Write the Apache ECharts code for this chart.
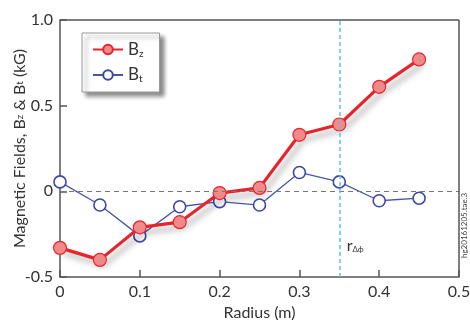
<!DOCTYPE html>
<html><head><meta charset="utf-8">
<script src="https://cdn.jsdelivr.net/npm/echarts@6/dist/echarts.min.js"></script>
<style>html,body{margin:0;padding:0;background:#fff}#c{width:470px;height:320px}</style>
</head><body><div id="c"></div>
<script>
var radius = [0, 0.05, 0.1, 0.15, 0.2, 0.25, 0.3, 0.35, 0.4, 0.45];
var bz = [-0.33, -0.40, -0.21, -0.18, -0.01, 0.02, 0.33, 0.39, 0.61, 0.77];
var bt = [0.055, -0.08, -0.26, -0.09, -0.06, -0.08, 0.11, 0.055, -0.055, -0.04];
var rDeltaPhi = 0.353;
var FONT = 'Lato';
function pairs(ys){ return radius.map(function(x,i){return [x, ys[i]];}); }
var chart = echarts.init(document.getElementById('c'));
chart.setOption({
  animation: false,
  textStyle: {fontFamily: FONT},
  grid: {left: 60, right: 11, top: 20, bottom: 43, containLabel: false, outerBoundsMode: 'none'},
  legend: {
    left: 82, top: 33, orient: 'vertical',
    itemWidth: 30, itemHeight: 12, itemGap: 8,
    padding: [8, 16, 8, 10],
    backgroundColor: '#fff', borderColor: '#999', borderWidth: 1,
    shadowColor: 'rgba(0,0,0,0.45)', shadowBlur: 4, shadowOffsetX: 4, shadowOffsetY: 4,
    data: ['Bz', 'Bt'],
    formatter: function(n){ return n === 'Bz' ? 'B{s|z}' : 'B{s|t}'; },
    textStyle: {fontFamily: FONT, fontSize: 17, color: '#333',
      rich: {s: {fontSize: 10, verticalAlign: 'bottom', padding: [8,0,0,0], fontFamily: FONT, color: '#333'}}}
  },
  xAxis: {
    type: 'value', min: 0, max: 0.5, interval: 0.1,
    name: 'Radius (m)', nameLocation: 'middle', nameGap: 28,
    nameTextStyle: {fontSize: 16, color: '#333', fontFamily: FONT},
    axisLine: {onZero: false, lineStyle: {color: '#555', width: 1.5}},
    axisTick: {inside: true, length: 7, lineStyle: {color: '#555', width: 1.5}},
    axisLabel: {fontSize: 16, color: '#333', margin: 7, fontFamily: FONT,
      formatter: function(v){ return v === 0 ? '0' : v.toFixed(1); }},
    splitLine: {show: false}
  },
  yAxis: {
    type: 'value', min: -0.5, max: 1.0, interval: 0.5,
    name: 'Magnetic Fields, B{s|z} & B{s|t} (kG)', nameLocation: 'middle', nameGap: 32,
    nameMoveOverlap: false,
    nameTextStyle: {fontSize: 16, color: '#333', fontFamily: FONT,
      rich: {s: {fontSize: 10, fontFamily: FONT, color: '#333'}}},
    axisLine: {onZero: false, lineStyle: {color: '#555', width: 1.5}},
    axisTick: {inside: true, length: 7, lineStyle: {color: '#555', width: 1.5}},
    axisLabel: {fontSize: 16, color: '#333', margin: 7, fontFamily: FONT,
      formatter: function(v){ return v === 0 ? '0' : v.toFixed(1); }},
    splitLine: {show: false}
  },
  series: [
    {
      name: 'frame', type: 'line', data: [], silent: true,
      markLine: {
        silent: true, symbol: 'none', label: {show: false},
        data: [
          {yAxis: 0, lineStyle: {type: [5,4], color: '#777', width: 1}},
          {yAxis: 1.0, lineStyle: {type: 'solid', color: '#555', width: 1.5}},
          {xAxis: 0.5, lineStyle: {type: 'solid', color: '#555', width: 1.5}},
          {xAxis: rDeltaPhi, lineStyle: {type: [4,3], color: '#5bc3e0', width: 1.5}}
        ]
      },
      markPoint: {
        symbol: 'circle', symbolSize: 0,
        data: [{coord: [rDeltaPhi, -0.32], value: 'r',
          label: {show: true, position: 'right', distance: 5,
            formatter: 'r{s|Δϕ}', fontSize: 16, color: '#333', fontFamily: FONT,
            rich: {s: {fontSize: 8, padding: [6,0,0,0], fontFamily: FONT, color: '#333'}}}}]
      }
    },
    {
      name: 'Bt', type: 'line', data: pairs(bt), z: 3,
      symbol: 'circle', symbolSize: 12,
      lineStyle: {color: '#4a55a8', width: 1.3},
      itemStyle: {color: '#fff', borderColor: '#3d47a6', borderWidth: 1.6}
    },
    {
      name: 'Bz', type: 'line', data: pairs(bz), z: 4,
      symbol: 'circle', symbolSize: 13,
      lineStyle: {color: '#e5252b', width: 3.2,
        shadowColor: 'rgba(0,0,0,0.35)', shadowBlur: 6, shadowOffsetX: 4, shadowOffsetY: 5},
      itemStyle: {color: '#f08a8a', borderColor: '#e5252b', borderWidth: 1.2}
    }
  ],
  graphic: [{
    type: 'text', x: 460, y: 258, rotation: Math.PI/2,
    style: {text: 'hg20161205.tae.3', fontSize: 8, fill: '#444', fontFamily: FONT}
  }]
});
</script>
</body></html>
